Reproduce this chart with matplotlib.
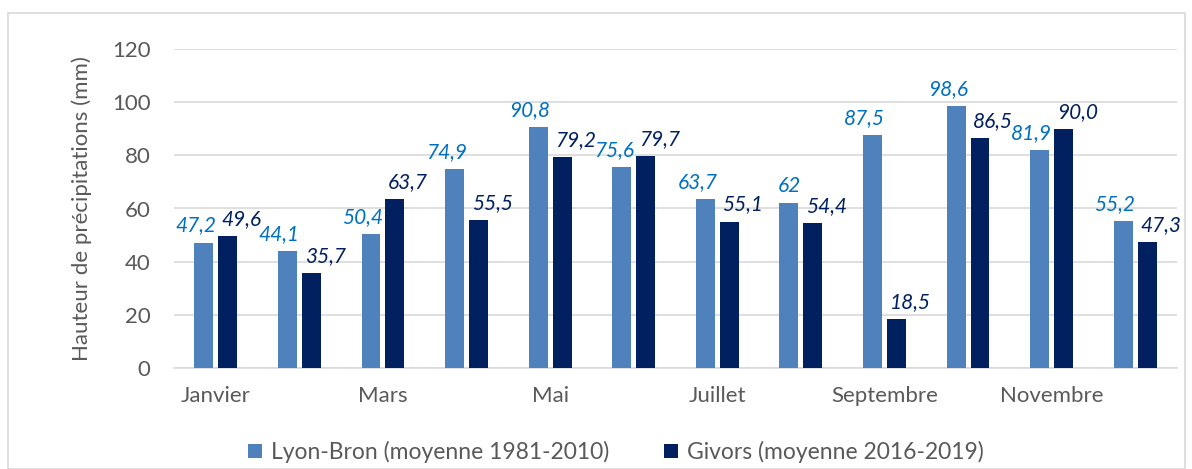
import matplotlib
matplotlib.use("Agg")
import matplotlib.pyplot as plt
import numpy as np
from matplotlib.patches import Rectangle

months = ["Janvier", "Février", "Mars", "Avril", "Mai", "Juin", "Juillet",
          "Août", "Septembre", "Octobre", "Novembre", "Décembre"]
lyon = [47.2, 44.1, 50.4, 74.9, 90.8, 75.6, 63.7, 62, 87.5, 98.6, 81.9, 55.2]
lyon_labels = ["47,2", "44,1", "50,4", "74,9", "90,8", "75,6", "63,7", "62",
               "87,5", "98,6", "81,9", "55,2"]
givors = [49.6, 35.7, 63.7, 55.5, 79.2, 79.7, 55.1, 54.4, 18.5, 86.5, 90.0, 47.3]
givors_labels = ["49,6", "35,7", "63,7", "55,5", "79,2", "79,7", "55,1", "54,4",
                 "18,5", "86,5", "90,0", "47,3"]
series_names = ["Lyon-Bron (moyenne 1981-2010)", "Givors (moyenne 2016-2019)"]
y_ticks = [0, 20, 40, 60, 80, 100, 120]

plt.rcParams['font.family'] = ['Lato', 'DejaVu Sans']

c_lyon = "#4F81BD"
c_giv = "#002060"
c_lab_lyon = "#0070C0"
txt = "#595959"

fig = plt.figure(figsize=(11.92, 4.69), dpi=100)
fig.patches.append(Rectangle((8/1192, 0), 1177/1192, 456/469, transform=fig.transFigure,
                             fill=False, edgecolor="#D9D9D9", linewidth=1.2))
ax = fig.add_axes([174/1192, (469-368)/469, 1003/1192, (368-49)/469])

x = np.arange(len(months))
w = 0.227
off = 0.143
b1 = ax.bar(x - off, lyon, w, color=c_lyon, label=series_names[0], zorder=3)
b2 = ax.bar(x + off, givors, w, color=c_giv, label=series_names[1], zorder=3)

for rect, lab in zip(b1, lyon_labels):
    ax.annotate(lab, (rect.get_x() + rect.get_width(), rect.get_height()),
                xytext=(2, 5), textcoords="offset points", ha="right", va="bottom",
                color=c_lab_lyon, fontsize=15, style="italic")
for rect, lab in zip(b2, givors_labels):
    ax.annotate(lab, (rect.get_x(), rect.get_height()),
                xytext=(2, 5), textcoords="offset points", ha="left", va="bottom",
                color=c_giv, fontsize=15, style="italic")

ax.set_xlim(-0.5, len(months) - 0.5)
ax.set_ylim(0, 120)
ax.set_yticks(y_ticks)
ax.set_yticklabels([str(t) for t in y_ticks], fontsize=16, color=txt)
ax.set_xticks(x[::2])
ax.set_xticklabels(months[::2], fontsize=16, color=txt)
ax.tick_params(axis='both', length=0)
ax.tick_params(axis='y', pad=17)
ax.tick_params(axis='x', pad=13)
ax.grid(axis='y', color="#D9D9D9", linewidth=1.2, zorder=0)
for s in ["top", "right", "left"]:
    ax.spines[s].set_visible(False)
ax.spines["bottom"].set_color("#D9D9D9")
ax.spines["bottom"].set_linewidth(1.2)
ax.set_ylabel("Hauteur de précipitations (mm)", fontsize=16, color=txt, labelpad=14)

fig.legend(handles=[b1, b2], labels=series_names, loc="center",
           bbox_to_anchor=(616/1192, 1 - 452/469), ncol=2, frameon=False,
           fontsize=16.5, labelcolor=txt, handlelength=0.6, handleheight=0.6,
           handletextpad=0.4, columnspacing=2.4)

fig.savefig("out.png", dpi=100)
